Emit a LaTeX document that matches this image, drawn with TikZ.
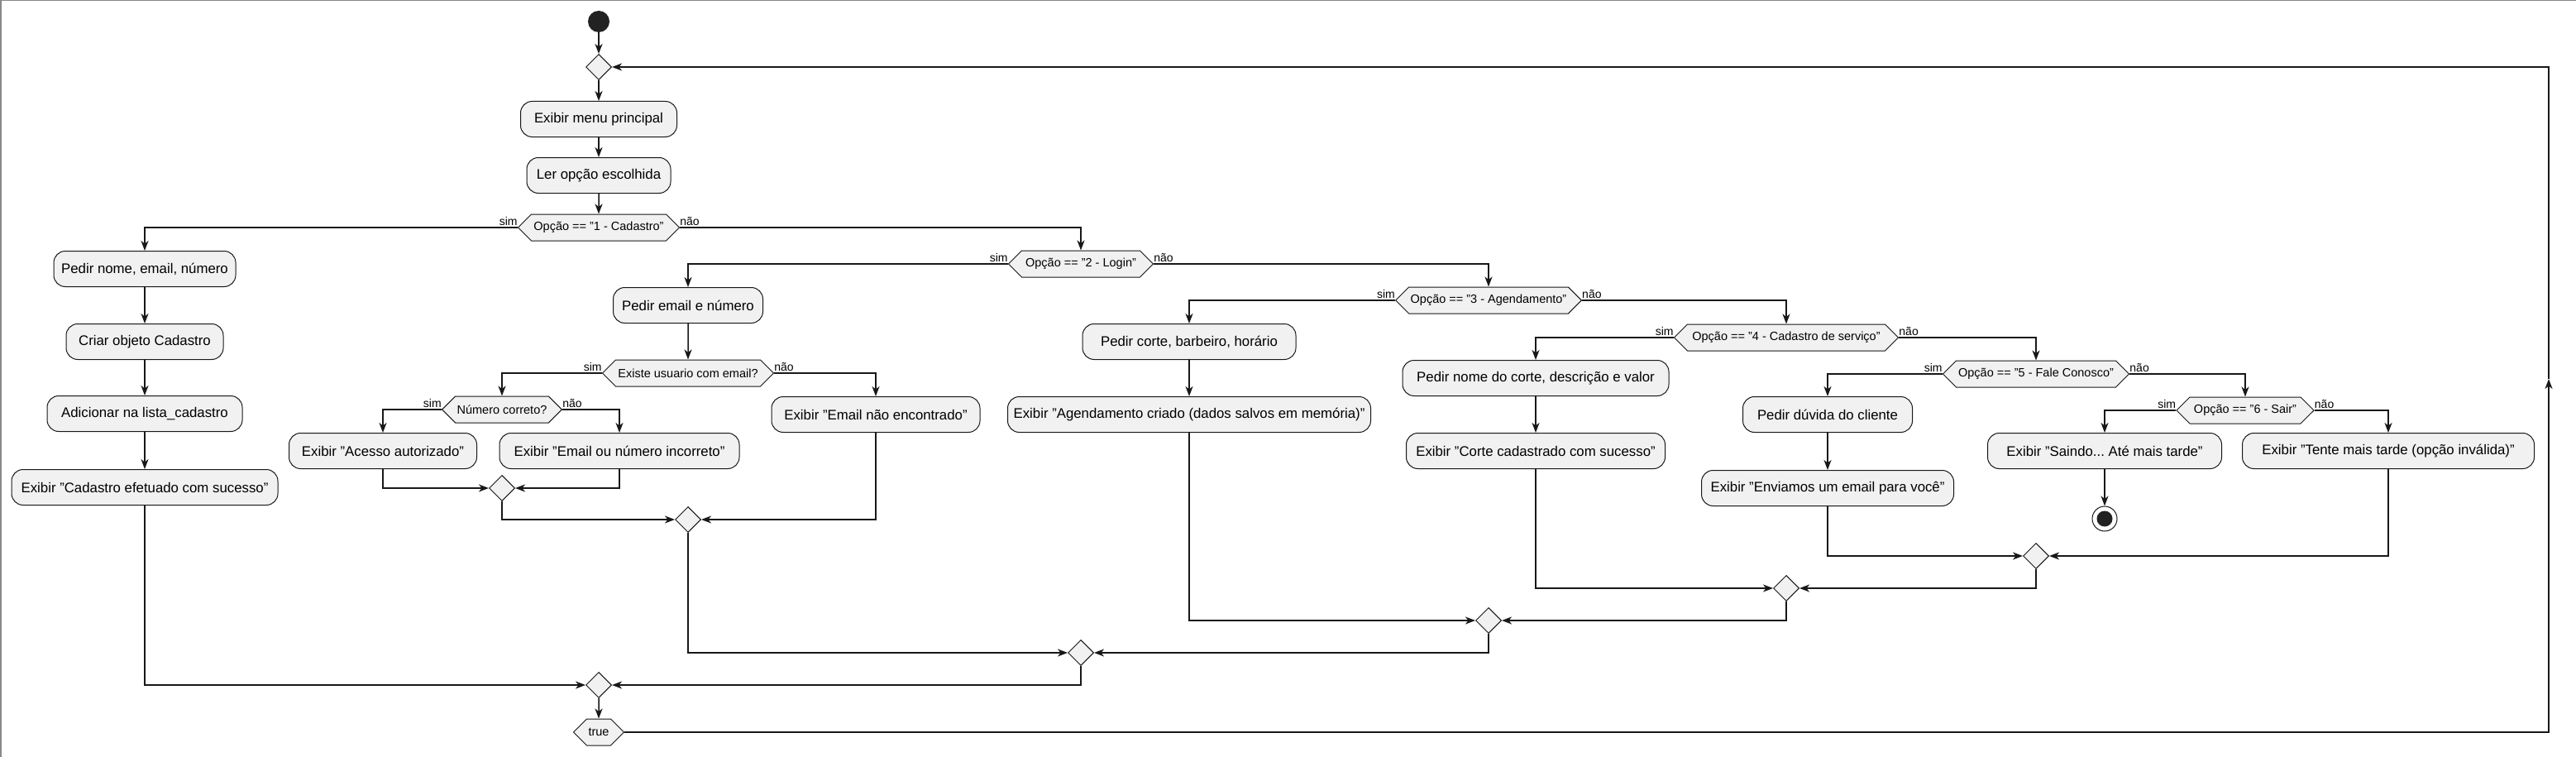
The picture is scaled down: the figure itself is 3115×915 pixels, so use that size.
\documentclass[tikz,border=0pt]{standalone}
\usepackage{fontspec}
\setmainfont{Liberation Sans}
\usetikzlibrary{arrows.meta,shapes.geometric,shapes.symbols}
\definecolor{lc}{HTML}{181818}
\definecolor{bx}{HTML}{F1F1F1}
\definecolor{fr}{HTML}{888888}
\definecolor{dk}{HTML}{222222}
\tikzset{
 act/.style={draw=lc, fill=bx, rounded corners=14pt, line width=1pt, minimum height=43pt, inner xsep=6pt, inner ysep=0pt, font=\fontsize{16.8}{20}\selectfont},
 dec/.style={signal, signal to=west and east, signal pointer angle=90, draw=lc, fill=bx, line width=1pt, minimum height=32pt, inner xsep=2pt, inner ysep=0pt, font=\fontsize{14.5}{17}\selectfont},
 mrg/.style={diamond, draw=lc, fill=bx, line width=1pt, minimum width=31pt, minimum height=31pt, inner sep=0pt},
 arr/.style={draw=lc, line width=1.5pt, -{Stealth[length=12pt,width=9pt,inset=3.5pt]}},
 lab/.style={font=\fontsize{14}{16}\selectfont, inner sep=0pt},
}
\begin{document}
\frenchspacing
\begin{tikzpicture}[x=1pt,y=-1pt]
\useasboundingbox (0,0) rectangle (3115,915);
\fill[white] (0,0) rectangle (3115,915);
\draw[fr, line width=1.5pt] (0.75,915) -- (0.75,0.75) -- (3115,0.75);

% top
\node[circle, fill=dk, minimum size=26pt, inner sep=0pt] (start) at (724,26) {};
\node[mrg] (m0) at (724,81) {};
\node[act, minimum width=189pt] (menu) at (724,144) {Exibir menu principal};
\node[act, minimum width=174pt] (ler) at (724,212) {Ler opção escolhida};
\node[dec, minimum width=195pt] (d1) at (724,275) {Opção == "1 - Cadastro"};

% cadastro
\node[act, minimum width=220pt] (cad1) at (175,325) {Pedir nome, email, número};
\node[act, minimum width=190pt] (cad2) at (175,413) {Criar objeto Cadastro};
\node[act, minimum width=236pt] (cad3) at (175,500) {Adicionar na lista\_cadastro};
\node[act, minimum width=322pt] (cad4) at (175,589) {Exibir "Cadastro efetuado com sucesso"};

% login
\node[dec, minimum width=175pt] (d2) at (1307,319) {Opção == "2 - Login"};
\node[act, minimum width=181pt] (log1) at (832,369) {Pedir email e número};
\node[dec, minimum width=207pt] (d21) at (832,451) {Existe usuario com email?};
\node[dec, minimum width=141pt] (d22) at (607,495) {Número correto?};
\node[act, minimum width=227pt] (log2) at (463,545) {Exibir "Acesso autorizado"};
\node[act, minimum width=290pt] (log3) at (749,545) {Exibir "Email ou número incorreto"};
\node[act, minimum width=252pt] (log4) at (1059,501) {Exibir "Email não encontrado"};
\node[mrg] (m22) at (607,590) {};
\node[mrg] (m21) at (832,628) {};

% agendamento
\node[dec, minimum width=217pt] (d3) at (1800,363) {Opção == "3 - Agendamento"};
\node[act, minimum width=258pt] (ag1) at (1438,413) {Pedir corte, barbeiro, horário};
\node[act, minimum width=439pt] (ag2) at (1438,501) {Exibir "Agendamento criado (dados salvos em memória)"};

% servico
\node[dec, minimum width=271pt] (d4) at (2160,408) {Opção == "4 - Cadastro de serviço"};
\node[act, minimum width=322pt] (sv1) at (1857,457) {Pedir nome do corte, descrição e valor};
\node[act, minimum width=313pt] (sv2) at (1857,545) {Exibir "Corte cadastrado com sucesso"};

% fale conosco
\node[dec, minimum width=225pt] (d5) at (2462,452) {Opção == "5 - Fale Conosco"};
\node[act, minimum width=205pt] (fc1) at (2210,501) {Pedir dúvida do cliente};
\node[act, minimum width=305pt] (fc2) at (2210,590) {Exibir "Enviamos um email para você"};

% sair
\node[dec, minimum width=166pt] (d6) at (2715,496) {Opção == "6 - Sair"};
\node[act, minimum width=283pt] (s1) at (2545,545) {Exibir "Saindo... Até mais tarde"};
\node[act, minimum width=353pt] (s2) at (2888,545) {Exibir "Tente mais tarde (opção inválida)"};
\node[circle, draw=lc, line width=1pt, fill=white, minimum size=30pt, inner sep=0pt] (end) at (2545,627) {};
\fill[dk] (end.center) circle (9.5pt);

% merges
\node[mrg] (m5) at (2462,672) {};
\node[mrg] (m4) at (2160,711) {};
\node[mrg] (m3) at (1800,750) {};
\node[mrg] (m2) at (1307,789) {};
\node[mrg] (mf) at (724,828) {};
\node[dec, minimum width=61pt] (tr) at (724,885) {true};
\coordinate (lp) at (3082,458);

% labels
\foreach \d in {d1,d2,d21,d22,d3,d4,d5,d6}{
  \node[lab, anchor=base east] (\d s) at ([yshift=3pt]\d.west) {sim};
  \node[lab, anchor=base west] (\d n) at ([yshift=3pt]\d.east) {não};
}

% connectors
\draw[arr] (start) -- (m0);
\draw[arr] (m0) -- (menu);
\draw[arr] (menu) -- (ler);
\draw[arr] (ler) -- (d1);
\draw[arr] (d1.west) -| (cad1.north);
\draw[arr] (d1.east) -| (d2.north);
\draw[arr] (cad1) -- (cad2);
\draw[arr] (cad2) -- (cad3);
\draw[arr] (cad3) -- (cad4);
\draw[arr] (cad4.south) |- (mf.west);

\draw[arr] (d2.west) -| (log1.north);
\draw[arr] (d2.east) -| (d3.north);
\draw[arr] (log1) -- (d21);
\draw[arr] (d21.west) -| (d22.north);
\draw[arr] (d21.east) -| (log4.north);
\draw[arr] (d22.west) -| (log2.north);
\draw[arr] (d22.east) -| (log3.north);
\draw[arr] (log2.south) |- (m22.west);
\draw[arr] (log3.south) |- (m22.east);
\draw[arr] (m22.south) |- (m21.west);
\draw[arr] (log4.south) |- (m21.east);
\draw[arr] (m21.south) |- (m2.west);

\draw[arr] (d3.west) -| (ag1.north);
\draw[arr] (d3.east) -| (d4.north);
\draw[arr] (ag1) -- (ag2);
\draw[arr] (ag2.south) |- (m3.west);

\draw[arr] (d4.west) -| (sv1.north);
\draw[arr] (d4.east) -| (d5.north);
\draw[arr] (sv1) -- (sv2);
\draw[arr] (sv2.south) |- (m4.west);

\draw[arr] (d5.west) -| (fc1.north);
\draw[arr] (d5.east) -| (d6.north);
\draw[arr] (fc1) -- (fc2);
\draw[arr] (fc2.south) |- (m5.west);

\draw[arr] (d6.west) -| (s1.north);
\draw[arr] (d6.east) -| (s2.north);
\draw[arr] (s1) -- (end);
\draw[arr] (s2.south) |- (m5.east);

\draw[arr] (m5.south) |- (m4.east);
\draw[arr] (m4.south) |- (m3.east);
\draw[arr] (m3.south) |- (m2.east);
\draw[arr] (m2.south) |- (mf.east);
\draw[arr] (mf) -- (tr);
\draw[arr] (tr.east) -| (lp);
\draw[arr] (lp) |- (m0.east);
\end{tikzpicture}
\end{document}
